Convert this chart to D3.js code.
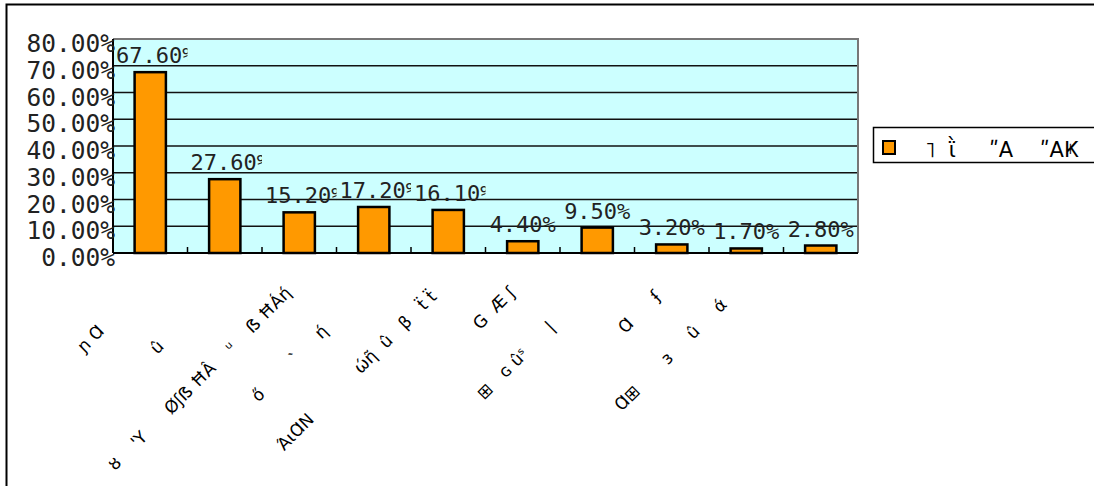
<!DOCTYPE html>
<html>
<head>
<meta charset="utf-8">
<script src="https://cdn.jsdelivr.net/npm/d3@7/dist/d3.min.js"></script>
<style>
  html, body { margin: 0; padding: 0; background: #fff; }
  #wrap { position: relative; width: 1094px; height: 486px; overflow: hidden; }
  svg { display: block; position: absolute; left: 0; top: 0; }
  .cat { position: absolute; width: 0; height: 0; transform: rotate(-45deg); transform-origin: 0 0; }
  .cat span { position: absolute; right: 0; bottom: -4px; white-space: pre; font-family: "DejaVu Sans"; font-size: 17px; line-height: 17px; color: #000; }
</style>
</head>
<body>
<div id="wrap">
<svg id="chart" width="1094" height="486"></svg>
</div>
<script>
// ---- data ----
const categories = [
  "ɲ Ɑ              ",
  "û                  ",
  "ȣ    'Y      Øʃẞ ĦÂ    ᵘ    ẞ ĦÁή    ",
  "ő        ˋ     ή              ",
  "ΆιⱭN            ώῆ  û   β   ẗ ẗ     ",
  "G  Æ ʃ    ",
  "⊞   ɢ ûˢ      |             ",
  "Ɑ      ʄ     ",
  "Ɑ⊞       ɜ     û     ά       ",
  ""
];
const values = [0.676, 0.276, 0.152, 0.172, 0.161, 0.044, 0.095, 0.032, 0.017, 0.028];
const yTicks = [0, 0.1, 0.2, 0.3, 0.4, 0.5, 0.6, 0.7, 0.8];
const seriesName = "˥  ῒ     ʺA    ʺAҜ";

// ---- layout ----
const svg = d3.select("#chart");
const plot = { left: 113, right: 858, top: 39, bottom: 253 };
const fmt = d3.format(".2%");

const x = d3.scaleBand().domain(d3.range(categories.length)).range([plot.left, plot.right]).padding(0);
const y = d3.scaleLinear().domain([0, 0.8]).range([plot.bottom, plot.top]);

// outer frame
svg.append("rect").attr("x", 6.5).attr("y", 4.5).attr("width", 1300).attr("height", 700)
  .attr("fill", "#fff").attr("stroke", "#000").attr("stroke-width", 2);

// plot background
svg.append("rect").attr("x", plot.left).attr("y", plot.top)
  .attr("width", plot.right - plot.left).attr("height", plot.bottom - plot.top)
  .attr("fill", "#CCFFFF");

// gridlines
svg.append("g").selectAll("line").data(yTicks.filter(t => t > 0 && t < 0.8)).join("line")
  .attr("x1", plot.left).attr("x2", plot.right)
  .attr("y1", d => y(d)).attr("y2", d => y(d))
  .attr("stroke", "#111").attr("stroke-width", 1.6);

// top/right border gray
svg.append("path")
  .attr("d", `M${plot.left},${plot.top}H${plot.right}V${plot.bottom}`)
  .attr("fill", "none").attr("stroke", "#777").attr("stroke-width", 2);

// bars
const barW = x.bandwidth() * 0.42;
svg.append("g").selectAll("rect").data(values).join("rect")
  .attr("x", (d, i) => x(i) + x.bandwidth() / 2 - barW / 2)
  .attr("y", d => y(d))
  .attr("width", barW)
  .attr("height", d => y(0) - y(d))
  .attr("fill", "#FF9900")
  .attr("stroke", "#000").attr("stroke-width", 2.5);

// x axis with inner ticks at category boundaries
svg.append("line").attr("x1", plot.left).attr("x2", plot.right)
  .attr("y1", plot.bottom).attr("y2", plot.bottom)
  .attr("stroke", "#000").attr("stroke-width", 2);
svg.append("g").selectAll("line").data(d3.range(1, categories.length)).join("line")
  .attr("x1", i => x(i)).attr("x2", i => x(i))
  .attr("y1", plot.bottom).attr("y2", plot.bottom - 6)
  .attr("stroke", "#000").attr("stroke-width", 1.5);

// y axis line
svg.append("line").attr("x1", plot.left).attr("x2", plot.left)
  .attr("y1", plot.top).attr("y2", plot.bottom)
  .attr("stroke", "#000").attr("stroke-width", 2);

// y tick labels
svg.append("g").selectAll("text").data(yTicks).join("text")
  .attr("x", plot.left + 2).attr("y", d => y(d) + 13)
  .attr("text-anchor", "end")
  .attr("font-family", "DejaVu Sans Mono")
  .attr("font-size", 24.5)
  .attr("fill", "#222")
  .text(d => fmt(d));

// data labels (clipped to category slot)
const defs = svg.append("defs");
values.forEach((v, i) => {
  defs.append("clipPath").attr("id", "clip" + i)
    .append("rect").attr("x", x(i)).attr("y", 0)
    .attr("width", x.bandwidth()).attr("height", 486);
});
const lbl = svg.append("g").selectAll("text").data(values).join("text")
  .attr("y", d => y(d) - 9)
  .attr("font-family", "DejaVu Sans Mono")
  .attr("font-size", 22)
  .attr("fill", "#222")
  .text(d => fmt(d));
lbl.each(function (d, i) {
  const w = this.getComputedTextLength();
  const sel = d3.select(this);
  if (w <= x.bandwidth() - 4) {
    sel.attr("x", x(i) + x.bandwidth() / 2).attr("text-anchor", "middle");
  } else {
    sel.attr("x", x(i) + 3).attr("text-anchor", "start").attr("clip-path", `url(#clip${i})`);
  }
});

// rotated category labels (HTML, rotated with CSS)
d3.select("#wrap").selectAll("div.cat").data(categories).join("div")
  .attr("class", "cat")
  .style("left", (d, i) => (x(i) + x.bandwidth() / 2 + 8) + "px")
  .style("top", "278px")
  .append("span")
  .text(d => d);

// legend
const lg = svg.append("g");
lg.append("rect").attr("x", 873.5).attr("y", 127.5).attr("width", 300).attr("height", 35)
  .attr("fill", "#fff").attr("stroke", "#000").attr("stroke-width", 1.5);
lg.append("rect").attr("x", 883).attr("y", 141).attr("width", 12).attr("height", 13)
  .attr("fill", "#FF9900").attr("stroke", "#000").attr("stroke-width", 2);
lg.append("text").attr("x", 925).attr("y", 157)
  .attr("font-family", "DejaVu Sans").attr("font-size", 21).attr("fill", "#000")
  .text(seriesName.replace(/ /g, "\u00A0"));
</script>
</body>
</html>
